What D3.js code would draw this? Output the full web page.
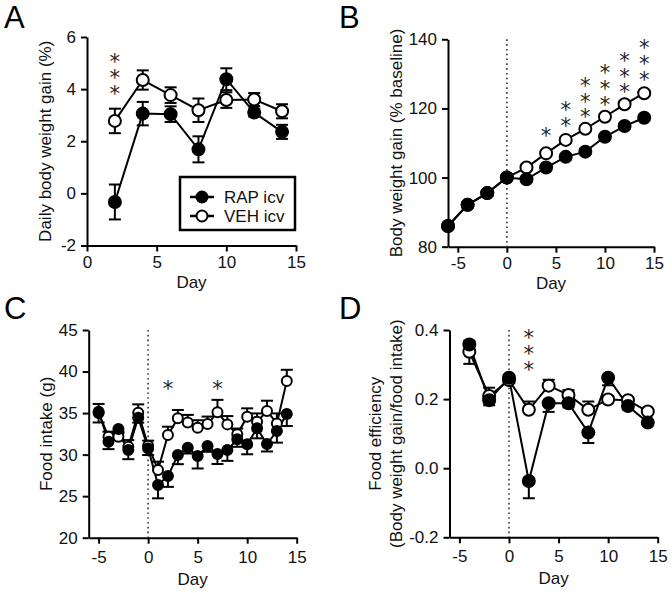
<!DOCTYPE html>
<html>
<head>
<meta charset="utf-8">
<script src="https://cdn.jsdelivr.net/npm/d3@7"></script>
<style>
  html, body { margin: 0; padding: 0; background: #fff; }
  svg { display: block; }
</style>
</head>
<body>
<svg id="chart" width="672" height="593"></svg>
<script>
// ---------------- DATA ----------------
// Panel A: Daily body weight gain (%)
const daysA = [2, 4, 6, 8, 10, 12, 14];
const rapA = [-0.33, 3.06, 3.04, 1.69, 4.38, 3.10, 2.36];
const rapAErr = [0.67, 0.45, 0.30, 0.50, 0.42, 0.15, 0.27];
const vehA = [2.78, 4.35, 3.77, 3.19, 3.58, 3.60, 3.15];
const vehAErr = [0.47, 0.37, 0.30, 0.45, 0.30, 0.25, 0.27];
const ticksAx = [0, 5, 10, 15];
const ticksAy = [-2, 0, 2, 4, 6];
const starsADays = [2], starsACounts = [3], starsABase = [4.12];

// Panel B: Body weight gain (% baseline)
const daysB = [-6, -4, -2, 0, 2, 4, 6, 8, 10, 12, 14];
const rapB = [86.0, 92.1, 95.5, 100, 99.5, 102.9, 106.0, 107.5, 111.8, 114.9, 117.3];
const rapBErr = [0.8, 0.8, 0.8, 0.5, 0.8, 0.8, 0.8, 0.8, 0.8, 0.8, 0.8];
const vehB = [86.0, 92.1, 95.5, 100, 102.9, 107.0, 110.9, 114.1, 117.6, 121.2, 124.4];
const vehBErr = [0.8, 0.8, 0.8, 0.5, 0.8, 0.8, 0.8, 0.8, 0.8, 0.8, 0.8];
const ticksBx = [-5, 0, 5, 10, 15];
const ticksBy = [80, 100, 120, 140];
const starsBDays = [4, 6, 8, 10, 12, 14], starsBCounts = [1, 2, 3, 3, 3, 3];
const starsBBase = [113.5, 116.9, 119.75, 123.4, 127.0, 130.6];

// Panel C: Food intake (g)  (signed SEM: negative = drawn downward)
const daysC = [-5, -4, -3, -2, -1, 0, 1, 2, 3, 4, 5, 6, 7, 8, 9, 10, 11, 12, 13, 14];
const rapC = [35.17, 31.56, 33.08, 30.55, 34.45, 30.75, 26.34, 27.42, 29.95, 30.83, 29.83, 31.04, 30.07, 30.55, 31.84, 31.24, 33.16, 31.28, 32.84, 34.89];
const rapCErr = [-1.3, -0.9, -0.5, -1.1, -0.6, -0.8, -1.6, -1.3, -1.1, -0.7, -1.5, -0.7, -1.2, -1.3, -0.9, -1.2, -1.2, -0.9, -1.4, -1.45];
const vehC = [35.0, 32.16, 32.16, 30.95, 35.05, 31.08, 28.15, 32.36, 34.37, 33.88, 33.24, 33.68, 35.09, 33.64, 32.44, 34.57, 33.96, 35.25, 33.76, 38.86];
const vehCErr = [1.1, 0.6, 0.6, 0.8, 1.0, 0.6, 1.0, 1.0, 1.0, 0.9, 0.9, 0.9, 1.5, 1.0, 0.7, 1.0, 1.0, 1.24, 1.2, 1.35];
const ticksCx = [-5, 0, 5, 10, 15];
const ticksCy = [20, 25, 30, 35, 40, 45];
const starsCDays = [2, 7], starsCCounts = [1, 1], starsCBase = [38.47, 38.47];

// Panel D: Food efficiency (signed SEM)
const daysD = [-4, -2, 0, 2, 4, 6, 8, 10, 12, 14];
const rapD = [0.358, 0.197, 0.262, -0.037, 0.188, 0.188, 0.103, 0.262, 0.180, 0.132];
const rapDErr = [0.011, -0.015, -0.015, -0.050, -0.025, -0.012, -0.030, -0.022, -0.010, -0.008];
const vehD = [0.337, 0.209, 0.255, 0.169, 0.239, 0.212, 0.169, 0.199, 0.197, 0.164];
const vehDErr = [-0.035, 0.024, 0.015, 0.024, 0.017, 0.014, 0.024, 0.010, 0.008, 0.008];
const ticksDx = [-5, 0, 5, 10, 15];
const ticksDy = [-0.2, 0.0, 0.2, 0.4];
const starsDDays = [2], starsDCounts = [3], starsDBase = [0.308];

const seriesNames = ["RAP icv", "VEH icv"];

// ---------------- DRAWING ----------------
const FONT = "'Liberation Sans', Arial, Helvetica, sans-serif";
const STARFONT = "'DejaVu Sans', sans-serif";
const svg = d3.select("#chart");
const hy = f => (d => f(d).replace("\u2212", "-"));

function zipSeries(days, vals, errs, both) {
  return days.map((d, i) => ({ x: d, y: vals[i], e: errs[i], both: both }));
}

function drawPanel(cfg) {
  const g = svg.append("g");
  const x = d3.scaleLinear().domain(cfg.xDomain).range([cfg.x0, cfg.x1]);
  const y = d3.scaleLinear().domain(cfg.yDomain).range([cfg.yBot, cfg.yTop]);

  // axes
  const xa = g.append("g").attr("transform", `translate(0,${cfg.yBot})`)
    .call(d3.axisBottom(x).tickValues(cfg.xTicks).tickSize(6).tickSizeOuter(0).tickPadding(cfg.xPad)
      .tickFormat(hy(d3.format("d"))));
  const ya = g.append("g").attr("transform", `translate(${cfg.x0},0)`)
    .call(d3.axisLeft(y).tickValues(cfg.yTicks).tickSize(6).tickSizeOuter(0).tickPadding(5)
      .tickFormat(hy(cfg.yFormat)));
  [xa, ya].forEach(a => {
    a.select(".domain").attr("stroke", "#000").attr("stroke-width", 2);
    a.selectAll(".tick line").attr("stroke", "#000").attr("stroke-width", 2);
    a.selectAll(".tick text").attr("fill", "#111").style("font-family", FONT).style("font-size", "17px");
  });
  // x-axis title
  g.append("text").attr("x", (cfg.x0 + cfg.x1) / 2).attr("y", cfg.yBot + cfg.titleDy)
    .attr("text-anchor", "middle").style("font-family", FONT).style("font-size", "17px").attr("fill", "#111")
    .text("Day");
  // y-axis title(s)
  const ym = (cfg.yTop + cfg.yBot) / 2;
  cfg.yTitle.forEach((t, i) => {
    const tx = cfg.x0 - cfg.yTitleOff[i];
    g.append("text").attr("transform", `translate(${tx},${ym}) rotate(-90)`)
      .attr("dy", "0.35em").attr("text-anchor", "middle")
      .style("font-family", FONT).style("font-size", "17px").attr("fill", "#111").text(t);
  });
  // panel letter
  g.append("text").attr("x", cfg.letterX).attr("y", cfg.letterY)
    .style("font-family", FONT).style("font-size", "31px").attr("fill", "#000").text(cfg.letter);

  // dotted zero line
  if (cfg.dotted) {
    g.append("line").attr("x1", x(0)).attr("x2", x(0)).attr("y1", cfg.yTop).attr("y2", cfg.yBot)
      .attr("stroke", "#333").attr("stroke-width", 1.6).attr("stroke-dasharray", "1.6,3.2");
  }

  const series = [
    { data: zipSeries(cfg.days, cfg.veh, cfg.vehErr, cfg.both), fill: "#fff" },
    { data: zipSeries(cfg.days, cfg.rap, cfg.rapErr, cfg.both), fill: "#000" }
  ];
  const cap = 6;
  // error bars
  series.forEach(s => {
    s.data.forEach(p => {
      const ends = p.both ? [p.y + p.e, p.y - p.e] : [p.y + p.e];
      ends.forEach(v => {
        g.append("line").attr("x1", x(p.x)).attr("x2", x(p.x)).attr("y1", y(p.y)).attr("y2", y(v))
          .attr("stroke", "#000").attr("stroke-width", 2);
        g.append("line").attr("x1", x(p.x) - cap).attr("x2", x(p.x) + cap).attr("y1", y(v)).attr("y2", y(v))
          .attr("stroke", "#000").attr("stroke-width", 2);
      });
    });
  });
  // lines
  const line = d3.line().x(p => x(p.x)).y(p => y(p.y));
  series.forEach(s => {
    g.append("path").datum(s.data).attr("d", line).attr("fill", "none")
      .attr("stroke", "#000").attr("stroke-width", 2);
  });
  // markers
  series.forEach(s => {
    g.selectAll(null).data(s.data).enter().append("circle")
      .attr("cx", p => x(p.x)).attr("cy", p => y(p.y)).attr("r", cfg.r)
      .attr("fill", s.fill).attr("stroke", "#000").attr("stroke-width", 2);
  });
  // significance stars: one vertical text per column
  const fs = 21, step = 12.8;
  cfg.starDays.forEach((d, i) => {
    const n = cfg.starCounts[i];
    const baseCy = y(cfg.starBase[i]);
    const midCy = baseCy - (n - 1) * step / 2;
    g.append("text")
      .attr("x", x(d)).attr("y", midCy + 1)
      .attr("text-anchor", "middle")
      .attr("opacity", 0.99)
      .style("writing-mode", "vertical-rl")
      .style("text-orientation", "upright")
      .style("letter-spacing", (step - fs) + "px")
      .style("font-family", STARFONT).style("font-size", fs + "px").attr("fill", "#222")
      .text("*".repeat(n));
  });
  return { g, x, y };
}

// Panel A
const pA = drawPanel({
  letter: "A", letterX: 4, letterY: 28,
  x0: 87, x1: 296, yTop: 37, yBot: 245.5, xDomain: [0, 15], yDomain: [-2, 6],
  xTicks: ticksAx, yTicks: ticksAy, yFormat: d3.format("d"), xPad: 4, titleDy: 42,
  yTitle: ["Daily body weight gain (%)"], yTitleOff: [42],
  days: daysA, rap: rapA, rapErr: rapAErr, veh: vehA, vehErr: vehAErr, both: true, r: 6,
  dotted: false, starDays: starsADays, starCounts: starsACounts, starBase: starsABase
});

// Panel B
drawPanel({
  letter: "B", letterX: 339, letterY: 28,
  x0: 448, x1: 654, yTop: 39.3, yBot: 246.7, xDomain: [-6, 15], yDomain: [80, 140],
  xTicks: ticksBx, yTicks: ticksBy, yFormat: d3.format("d"), xPad: 4, titleDy: 42,
  yTitle: ["Body weight gain (% baseline)"], yTitleOff: [52],
  days: daysB, rap: rapB, rapErr: rapBErr, veh: vehB, vehErr: vehBErr, both: true, r: 6,
  dotted: true, starDays: starsBDays, starCounts: starsBCounts, starBase: starsBBase
});

// Panel C
drawPanel({
  letter: "C", letterX: 4, letterY: 319,
  x0: 88.7, x1: 296.7, yTop: 330, yBot: 537.7, xDomain: [-6, 15], yDomain: [20, 45],
  xTicks: ticksCx, yTicks: ticksCy, yFormat: d3.format("d"), xPad: 7, titleDy: 47,
  yTitle: ["Food intake (g)"], yTitleOff: [43],
  days: daysC, rap: rapC, rapErr: rapCErr, veh: vehC, vehErr: vehCErr, both: false, r: 5,
  dotted: true, starDays: starsCDays, starCounts: starsCCounts, starBase: starsCBase
});

// Panel D
drawPanel({
  letter: "D", letterX: 339, letterY: 319,
  x0: 449.5, x1: 657.7, yTop: 330, yBot: 537.3, xDomain: [-6, 15], yDomain: [-0.2, 0.4],
  xTicks: ticksDx, yTicks: ticksDy, yFormat: d3.format(".1f"), xPad: 7, titleDy: 47,
  yTitle: ["Food efficiency", "(Body weight gain/food intake)"], yTitleOff: [74.5, 53.5],
  days: daysD, rap: rapD, rapErr: rapDErr, veh: vehD, vehErr: vehDErr, both: false, r: 6,
  dotted: true, starDays: starsDDays, starCounts: starsDCounts, starBase: starsDBase
});

// Legend (panel A)
const lg = pA.g.append("g");
lg.append("rect").attr("x", 180).attr("y", 177).attr("width", 115).attr("height", 53)
  .attr("fill", "#fff").attr("stroke", "#000").attr("stroke-width", 2.5);
seriesNames.forEach((name, i) => {
  const ly = 197 + i * 19;
  lg.append("line").attr("x1", 190).attr("x2", 214).attr("y1", ly).attr("y2", ly)
    .attr("stroke", "#000").attr("stroke-width", 2.5);
  lg.append("circle").attr("cx", 202).attr("cy", ly).attr("r", 5.5)
    .attr("fill", i === 0 ? "#000" : "#fff").attr("stroke", "#000").attr("stroke-width", 2);
  lg.append("text").attr("x", 224).attr("y", ly).attr("dy", "0.36em")
    .style("font-family", FONT).style("font-size", "17px").attr("fill", "#111").text(name);
});
</script>
</body>
</html>
